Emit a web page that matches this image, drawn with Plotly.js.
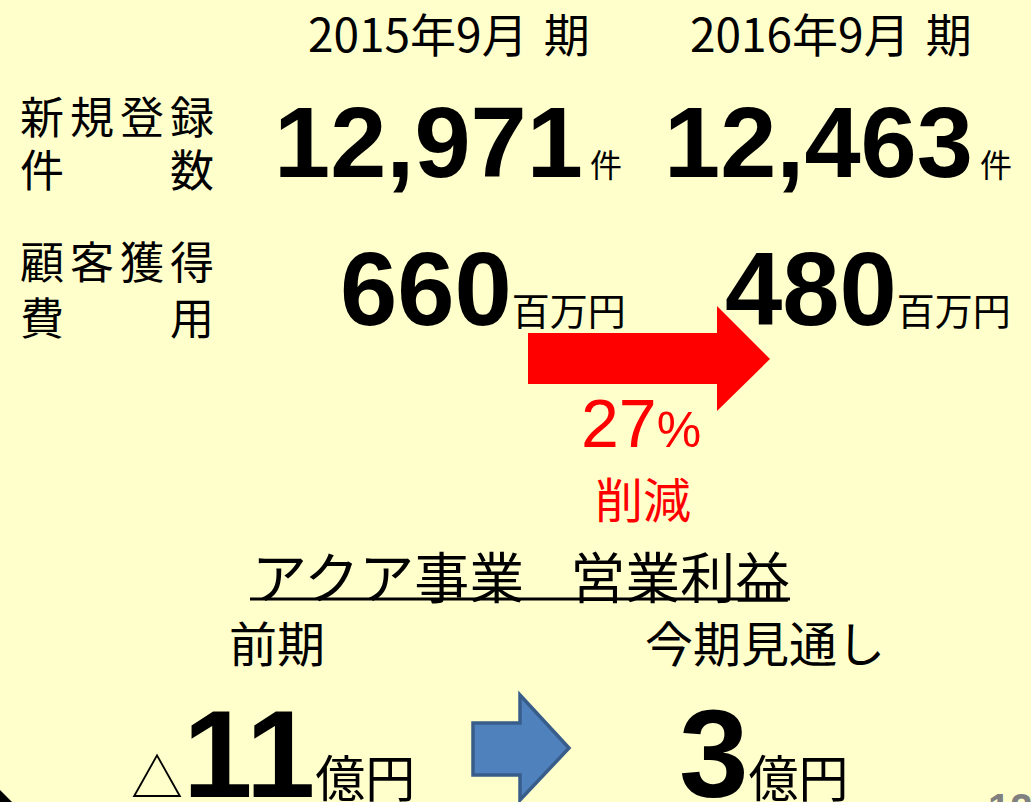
<!DOCTYPE html>
<html><head><meta charset="utf-8">
<script src="https://cdn.plot.ly/plotly-3.0.1.min.js"></script>
<style>html,body{margin:0;padding:0;background:#FFFFCC;overflow:hidden}</style>
</head><body><div id="chart" style="width:1031px;height:802px"></div>
<script>
// ---- data ----
const periods = ['2015年9月期', '2016年9月期'];
const rowLabels = ['新規登録件数', '顧客獲得費用'];
const registrations = [12971, 12463];
const registrationUnit = '件';
const acquisitionCost = [660, 480];
const costUnit = '百万円';
const reductionPct = 27;
const reductionLabel = '削減';
const profitTitle = 'アクア事業　営業利益';
const profitPeriods = ['前期', '今期見通し'];
const aquaProfit = [-11, 3];
const profitUnit = '億円';
const pageNumber = '12';

// ---- layout helpers ----
const JP = 'Noto Sans CJK JP, Noto Sans CJK SC, sans-serif';
const LAT = 'Liberation Sans, Arial, sans-serif';
const ann = [];
function add(o){ ann.push(Object.assign({xref:'x', yref:'y', showarrow:false, xanchor:'center', yanchor:'middle', borderpad:0}, o)); }

// period headers (small gap before 期 as in the slide)
const colCenter = [449, 831];
periods.forEach((p,i)=> add({x: colCenter[i], y: 32,
  text: p.replace('月', '月<span style="font-size:16px">　</span>'),
  font:{family: JP, size: 46, color:'#000'}}));

// row labels (justified over 4 slots)
const slots = [42, 92, 142, 192];
const rowLineY = [[115, 168], [260, 316]];
rowLabels.forEach((lab, r)=>{
  const l1 = lab.slice(0,4).split(''), l2 = lab.slice(4).split('');
  l1.forEach((c,k)=> add({x: slots[k], y: rowLineY[r][0], text: c, font:{family: JP, size: 44, color:'#000'}}));
  const pos2 = l2.length === 2 ? [0,3] : l2.map((_,k)=>k);
  l2.forEach((c,k)=> add({x: slots[pos2[k]], y: rowLineY[r][1], text: c, font:{family: JP, size: 44, color:'#000'}}));
});

// big values
const colRight = [[623, 1013], [627, 1012]];
const fmt = v => v.toLocaleString('en-US');
registrations.forEach((v,i)=> add({x: colRight[0][i], y: 142, xanchor:'right',
  text: '<b>' + fmt(v) + '</b><span style="font-family:Noto Sans CJK JP;font-size:32px"> ' + registrationUnit + '</span>',
  font:{family: LAT, size: 101, color:'#000'}}));
acquisitionCost.forEach((v,i)=> add({x: colRight[1][i], y: 289, xanchor:'right',
  text: '<b>' + fmt(v) + '</b><span style="font-family:Noto Sans CJK JP;font-size:38px">' + costUnit + '</span>',
  font:{family: LAT, size: 103, color:'#000'}}));

// reduction
add({x: 641, y: 423, text: reductionPct + '<span style="font-size:50px">%</span>', font:{family: LAT, size: 68, color:'#FF0000'}});
add({x: 643, y: 497, text: reductionLabel, font:{family: JP, size: 48, color:'#FF0000'}});

// aqua profit
add({x: 521, y: 574, text: profitTitle.replace('　', '<span style="font-size:46px">　</span>'), font:{family: JP, size: 55, color:'#000'}});
const profitCenter = [277, 765];
profitPeriods.forEach((p,i)=> add({x: profitCenter[i], y: 641, text: p, font:{family: JP, size: 48, color:'#000'}}));
const profitLeft = [130, 678];
aquaProfit.forEach((v,i)=>{
  const neg = v < 0;
  add({x: profitLeft[i], y: 753, xanchor:'left',
    text: (neg ? '<span style="font-family:Noto Sans CJK JP;font-size:52px">△</span>' : '') +
          '<b>' + Math.abs(v) + '</b><span style="font-family:Noto Sans CJK JP;font-size:50px">' + profitUnit + '</span>',
    font:{family: LAT, size: 125, color:'#000'}});
});

// page number (cut off at bottom edge)
ann.push({xref:'paper', yref:'paper', x: 1010/1031, y: -0.008, xanchor:'center', yanchor:'middle', showarrow:false,
  text:'<b>' + pageNumber + '</b>', font:{family: LAT, size: 40, color:'#808080'}});

const shapes = [
  // red arrow
  {type:'path', xref:'x', yref:'y', path:'M528,333 L717,333 L717,306 L770,359 L717,411 L717,384 L528,384 Z', fillcolor:'#FF0000', line:{width:0}},
  // underline
  {type:'line', xref:'x', yref:'y', x0: 250, x1: 790, y0: 599, y1: 599, line:{color:'#000', width:3}},
  // blue arrow
  {type:'path', xref:'x', yref:'y', path:'M473,723 L520,723 L520,695 L569,748 L520,800 L520,775 L473,775 Z', fillcolor:'#4F81BD', line:{color:'#385D8A', width:3.5}},
  // corner decoration
  {type:'path', xref:'x', yref:'y', path:'M0,790 L12,802 L0,802 Z', fillcolor:'#000', line:{width:0}}
];

const layout = {
  width: 1031, height: 802,
  margin:{l:0, r:0, t:0, b:0},
  paper_bgcolor:'#FFFFCC', plot_bgcolor:'#FFFFCC',
  xaxis:{range:[0,1031], visible:false, fixedrange:true},
  yaxis:{range:[802,0], visible:false, fixedrange:true},
  showlegend:false,
  annotations: ann,
  shapes: shapes
};
Plotly.newPlot('chart', [], layout, {displayModeBar:false, staticPlot:true});
</script></body></html>
